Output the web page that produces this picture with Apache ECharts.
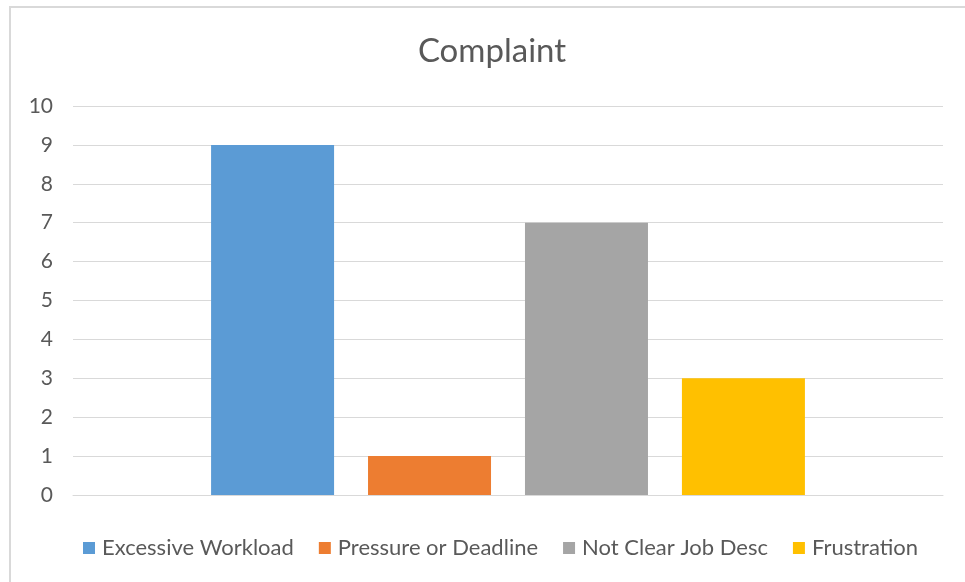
<!DOCTYPE html>
<html>
<head>
<meta charset="utf-8">
<script src="https://cdn.jsdelivr.net/npm/echarts@6/dist/echarts.min.js"></script>
<style>
html, body { margin: 0; padding: 0; background: #fff; }
#main { width: 965px; height: 582px; }
</style>
</head>
<body>
<div id="main"></div>
<script>
var categories = ['Complaint'];
var seriesNames = ['Excessive Workload', 'Pressure or Deadline', 'Not Clear Job Desc', 'Frustration'];
var seriesValues = [[9], [1], [7], [3]];
var colors = ['#5b9bd5', '#ed7d31', '#a5a5a5', '#ffc000'];
var yTicks = [0, 10, 1];

var myChart = echarts.init(document.getElementById('main'));
var font = 'Lato, "Open Sans", sans-serif';

var series = seriesNames.map(function (name, i) {
    return {
        name: name,
        type: 'bar',
        data: seriesValues[i],
        barWidth: 123,
        barGap: '27.6%',
        itemStyle: { color: colors[i] }
    };
});

option = {
    animation: false,
    color: colors,
    graphic: [{
        type: 'rect',
        shape: { x: 10, y: 7, width: 980, height: 600 },
        style: { fill: 'none', stroke: '#d9d9d9', lineWidth: 2 },
        silent: true
    }],
    title: {
        text: 'Complaint',
        left: 487,
        top: 30,
        textAlign: 'center',
        textStyle: { fontFamily: font, fontSize: 33, fontWeight: 'normal', color: '#595959' }
    },
    legend: {
        data: seriesNames,
        left: 78,
        top: 532,
        itemWidth: 12,
        itemHeight: 12,
        itemGap: 25,
        icon: 'rect',
        textStyle: { fontFamily: font, fontSize: 22, color: '#595959', padding: [0, 0, 0, 2] }
    },
    grid: { left: 73, right: 22, top: 106, bottom: 87, containLabel: false },
    xAxis: {
        type: 'category',
        data: categories,
        axisLine: { show: true, lineStyle: { color: '#d9d9d9', width: 1 } },
        axisTick: { show: false },
        axisLabel: { show: false }
    },
    yAxis: {
        type: 'value',
        min: yTicks[0],
        max: yTicks[1],
        interval: yTicks[2],
        axisLine: { show: false },
        axisTick: { show: false },
        axisLabel: { fontFamily: font, fontSize: 21, color: '#595959', margin: 20 },
        splitLine: { lineStyle: { color: '#d9d9d9', width: 1 } }
    },
    series: series
};

myChart.setOption(option);
</script>
</body>
</html>
